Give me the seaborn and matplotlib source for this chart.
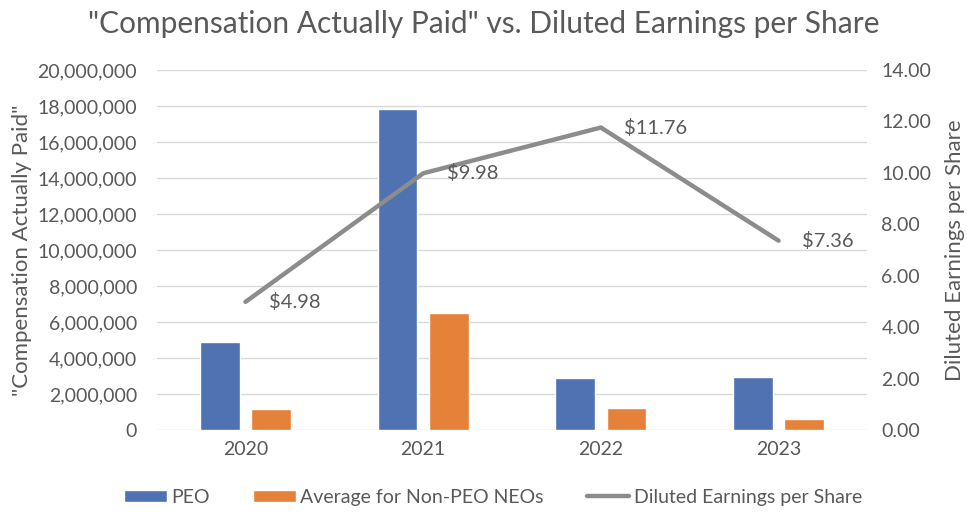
import numpy as np
import pandas as pd
import matplotlib.pyplot as plt
import seaborn as sns
from matplotlib.lines import Line2D
from matplotlib.patches import Patch
from matplotlib.ticker import FuncFormatter

# Data
years = ["2020", "2021", "2022", "2023"]
peo_cap = [4900000, 17820000, 2900000, 2930000]
non_peo_cap = [1150000, 6480000, 1240000, 610000]
diluted_eps = [4.98, 9.98, 11.76, 7.36]

series_names = ["PEO", "Average for Non-PEO NEOs"]
eps_name = "Diluted Earnings per Share"

blue = "#4E72B2"
orange = "#E58139"
grey = "#8C8C8C"
text_grey = "#595959"

sns.set_style("white")
plt.rcParams["font.family"] = ["Lato", "DejaVu Sans"]

bars = pd.DataFrame({
    "year": years * 2,
    "value": peo_cap + non_peo_cap,
    "series": [series_names[0]] * len(years) + [series_names[1]] * len(years),
})
line = pd.DataFrame({"pos": np.arange(len(years)), "eps": diluted_eps})

fig = plt.figure(figsize=(9.67, 5.18), dpi=100)
ax = fig.add_axes([0.162, 0.170, 0.735, 0.695])

sns.barplot(data=bars, x="year", y="value", hue="series", order=years,
            hue_order=series_names, palette=[blue, orange],
            width=0.58, gap=0.23, ax=ax, legend=False, saturation=1)

ax.set_ylim(0, 20000000)
ax.set_yticks(np.arange(0, 20000001, 2000000))
ax.yaxis.set_major_formatter(FuncFormatter(lambda v, p: f"{int(v):,}"))
ax.set_xlim(-0.5, len(years) - 0.5)
ax.grid(axis="y", color="#D9D9D9", linewidth=1)
ax.set_axisbelow(True)
for s in ax.spines.values():
    s.set_visible(False)
ax.tick_params(axis="y", length=0, labelsize=14, colors=text_grey, pad=14)
ax.tick_params(axis="x", length=0, labelsize=14, colors=text_grey, pad=8)
ax.set_xlabel("")
ax.set_ylabel('"Compensation Actually Paid"', fontsize=16, color=text_grey, labelpad=4)

ax2 = ax.twinx()
sns.lineplot(data=line, x="pos", y="eps", color=grey, linewidth=3.2, ax=ax2)
ax2.set_ylim(0, 14)
ax2.set_yticks(np.arange(0, 14.01, 2))
ax2.yaxis.set_major_formatter(FuncFormatter(lambda v, p: f"{v:.2f}"))
ax2.set_xlim(-0.5, len(years) - 0.5)
for s in ax2.spines.values():
    s.set_visible(False)
ax2.tick_params(axis="both", length=0, labelsize=14, colors=text_grey, pad=10)
ax2.set_xlabel("")
ax2.set_ylabel(eps_name, fontsize=16, color=text_grey, labelpad=10)

for x, v in zip(line["pos"], line["eps"]):
    ax2.annotate(f"${v:.2f}", (x, v), xytext=(17, 0), textcoords="offset points",
                 ha="left", va="center", fontsize=14.5, color=text_grey)

fig.suptitle('"Compensation Actually Paid" vs. Diluted Earnings per Share',
             y=0.98, fontsize=21.5, color=text_grey)

handles = [Patch(facecolor=blue, label=series_names[0]),
           Patch(facecolor=orange, label=series_names[1]),
           Line2D([0], [0], color=grey, linewidth=3.2, label=eps_name)]
fig.legend(handles=handles, loc="lower center", bbox_to_anchor=(0.51, -0.01), ncol=3,
           frameon=False, fontsize=14, labelcolor=text_grey, handlelength=2.2,
           handleheight=0.55, columnspacing=2.2, handletextpad=0.25)

fig.savefig("out.png", dpi=100)
